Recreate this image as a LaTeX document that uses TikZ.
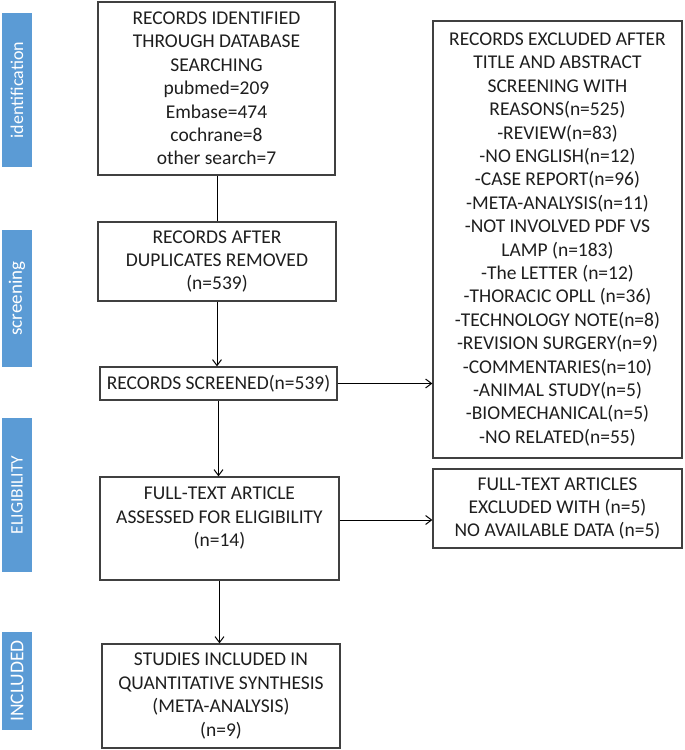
\documentclass[tikz,border=0pt]{standalone}
\usepackage{fontspec}
\setmainfont{Carlito}
\usetikzlibrary{arrows.meta}
\definecolor{sideblue}{RGB}{91,155,213}
\definecolor{boxline}{RGB}{64,64,64}
\definecolor{txt}{RGB}{30,30,30}
\begin{document}
\begin{tikzpicture}[x=1pt,y=-1pt,
  box/.style={draw=boxline,line width=1.2pt,align=center,inner sep=0pt,text=txt,
    font=\fontsize{19.5}{23.4}\selectfont},
  side/.style={fill=sideblue,rotate=90,text=white,inner sep=0pt,minimum height=30pt},
  conn/.style={line width=1pt,black},
  arr/.style={conn,-{Straight Barb[length=6pt,width=9pt,line width=1pt]}}]
\useasboundingbox (0,0) rectangle (685,750);
% side labels
\node[side,minimum width=154pt,font=\fontsize{18}{20}\selectfont] (lid) at (17,90) {identification};
\node[side,minimum width=137pt,font=\fontsize{19}{21}\selectfont] (lsc) at (17,298.5) {screening};
\node[side,minimum width=154pt,font=\fontsize{17.5}{20}\selectfont] (lel) at (17,495) {ELIGIBILITY};
\node[side,minimum width=98pt,font=\fontsize{19.5}{21}\selectfont] (lin) at (17,681) {INCLUDED};
% main boxes
\node[box,minimum width=237pt,minimum height=173pt] (b1) at (216.5,88.5)
 {RECORDS IDENTIFIED\\THROUGH DATABASE\\SEARCHING\\pubmed=209\\Embase=474\\cochrane=8\\other search=7};
\node[box,minimum width=238pt,minimum height=79pt] (b2) at (217,261.5)
 {RECORDS AFTER\\DUPLICATES REMOVED\\(n=539)};
\node[box,minimum width=237pt,minimum height=33pt] (b3) at (218.5,383.5)
 {RECORDS SCREENED(n=539)};
\node[box,minimum width=239pt,minimum height=103pt] (b4) at (219.5,528.5)
 {FULL-TEXT ARTICLE\\ASSESSED FOR ELIGIBILITY\\(n=14)\\\mbox{}};
\node[box,minimum width=238pt,minimum height=104pt] (b5) at (221,696)
 {STUDIES INCLUDED IN\\QUANTITATIVE SYNTHESIS\\(META-ANALYSIS)\\(n=9)};
% exclusion boxes
\node[box,minimum width=249pt,minimum height=437pt] (e1) at (557.5,239.5)
 {RECORDS EXCLUDED AFTER\\TITLE AND ABSTRACT\\SCREENING WITH\\REASONS(n=525)\\-REVIEW(n=83)\\-NO ENGLISH(n=12)\\-CASE REPORT(n=96)\\-META-ANALYSIS(n=11)\\-NOT INVOLVED PDF VS\\LAMP (n=183)\\-The LETTER (n=12)\\-THORACIC OPLL (n=36)\\-TECHNOLOGY NOTE(n=8)\\-REVISION SURGERY(n=9)\\-COMMENTARIES(n=10)\\-ANIMAL STUDY(n=5)\\-BIOMECHANICAL(n=5)\\-NO RELATED(n=55)};
\node[box,minimum width=249pt,minimum height=79pt] (e2) at (557.5,508.5)
 {FULL-TEXT ARTICLES\\EXCLUDED WITH (n=5)\\NO AVAILABLE DATA (n=5)};
% connectors
\draw[conn] (b2.north |- b1.south) -- (b2.north);
\draw[arr] (b2.south) -- (b2.south |- b3.north);
\draw[arr] (b3.south) -- (b3.south |- b4.north);
\draw[arr] (b4.south) -- (b4.south |- b5.north);
\draw[arr] (b3.east) -- (b3.east -| e1.west);
\draw[arr] ([yshift=8.5pt]b4.east) -- ([yshift=8.5pt]b4.east -| e2.west);
\end{tikzpicture}
\end{document}
